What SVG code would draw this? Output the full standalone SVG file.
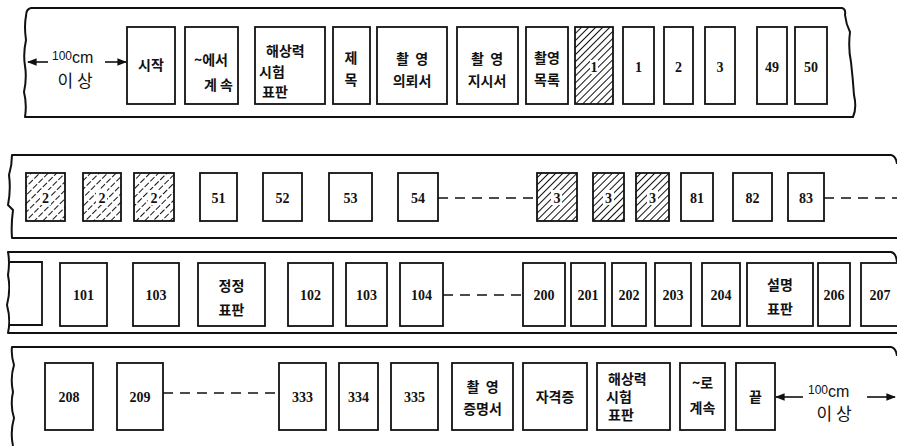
<svg xmlns="http://www.w3.org/2000/svg" width="897" height="446" viewBox="0 0 897 446">
<style>
.strip{fill:none;stroke:#111;stroke-width:2;stroke-linejoin:round}
.b{fill:#fff;stroke:#111;stroke-width:1.8}
.hb{fill:url(#hatch);stroke:#111;stroke-width:1.8}
.hd{fill:url(#hatchd);stroke:#111;stroke-width:1.8}
.k{font-family:"Noto Sans CJK KR","Noto Sans",sans-serif;font-size:14px;font-weight:bold;fill:#111}
.n{font-family:"Liberation Serif","DejaVu Serif",serif;font-size:14px;font-weight:bold;fill:#111;text-anchor:middle}
.c{text-anchor:middle}
.cm{font-family:"Liberation Sans","DejaVu Sans",sans-serif;font-size:16px;fill:#111}
.big{font-size:17px;font-weight:normal}
.dash{fill:none;stroke:#111;stroke-width:1.6;stroke-dasharray:10 7}
.ln{fill:none;stroke:#111;stroke-width:1.6}
</style>
<defs>
<pattern id="hatch" width="5" height="5" patternUnits="userSpaceOnUse" patternTransform="rotate(45)">
<line x1="0" y1="0" x2="0" y2="5" stroke="#111" stroke-width="2"/>
</pattern>
<pattern id="hatchd" width="6" height="8" patternUnits="userSpaceOnUse" patternTransform="rotate(45)">
<line x1="0" y1="0" x2="0" y2="6" stroke="#111" stroke-width="2"/>
</pattern>
<marker id="ah" viewBox="0 0 10 10" refX="9" refY="5" markerWidth="6" markerHeight="6" orient="auto">
<path d="M0 1 L10 5 L0 9 Z" fill="#111"/>
</marker>
</defs>
<rect width="897" height="446" fill="#fff"/>

<g id="strips">
<path class="strip" d="M31 8 L842 8 Q846 9 845 15 Q846 24 850 32 Q848 48 851 62 Q853 80 854 95 Q857 108 853 117 L25 117 Q27 104 24 92 Q27 78 25 66 Q23 54 26 40 Q24 26 26 16 Q26 9 31 8 Z"/>
<path class="strip" d="M899 238 L12 238 Q11 225 13 210 L8 205 Q11 190 9 175 Q12 165 12 155 L891 155 Q896 156 897 164"/>
<path class="strip" d="M899 333 L8 333 Q11 320 7 305 Q11 290 8 275 Q10 262 8 252 L891 252 Q896 253 897 262"/>
<path class="strip" d="M13 446 Q10 432 14 418 Q10 405 13 392 Q10 378 14 365 Q11 355 12 347 L891 347 Q896 348 897 356"/>
</g>

<g id="connectors">
<line class="ln" x1="48" y1="62" x2="28" y2="62" marker-end="url(#ah)"/>
<line class="ln" x1="105" y1="62" x2="126" y2="62" marker-end="url(#ah)"/>
<line class="dash" x1="438" y1="198" x2="537" y2="198"/>
<line class="dash" x1="824" y1="198" x2="897" y2="198"/>
<line class="dash" x1="443" y1="295" x2="523" y2="295"/>
<line class="dash" x1="163" y1="393" x2="279" y2="393"/>
<line class="ln" x1="803" y1="397" x2="776" y2="397" marker-end="url(#ah)"/>
<line class="ln" x1="867" y1="397" x2="895" y2="397" marker-end="url(#ah)"/>
</g>

<g id="label-start">
<text class="cm" x="52" y="63"><tspan font-size="12" dy="-3">100</tspan><tspan dy="3">cm</tspan></text>
<text class="k c big" x="75" y="87">이 상</text>
</g>
<g id="label-end">
<text class="cm" x="808" y="397"><tspan font-size="12" dy="-3">100</tspan><tspan dy="3">cm</tspan></text>
<text class="k c big" x="834" y="420">이 상</text>
</g>

<!-- strip 1 -->
<g id="n-start"><rect class="b" x="127" y="27" width="48" height="77"/><text class="k c" x="151" y="70">시작</text></g>
<g id="n-contfrom"><rect class="b" x="185" y="27" width="53" height="77"/><text class="k c" x="211" y="65">~에서</text><text class="k" x="233" y="90" text-anchor="end">계 속</text></g>
<g id="n-restarget1"><rect class="b" x="255" y="27" width="70" height="77"/><text class="k" x="266" y="56">해상력</text><text class="k" x="259" y="77">시험</text><text class="k" x="262" y="97">표판</text></g>
<g id="n-title"><rect class="b" x="333" y="27" width="37" height="77"/><text class="k c" x="351" y="63">제</text><text class="k c" x="351" y="85">목</text></g>
<g id="n-request"><rect class="b" x="377" y="27" width="70" height="77"/><text class="k c" x="412" y="64" xml:space="preserve">촬  영</text><text class="k c" x="412" y="86">의뢰서</text></g>
<g id="n-instruction"><rect class="b" x="457" y="27" width="61" height="77"/><text class="k c" x="487" y="64" xml:space="preserve">촬  영</text><text class="k c" x="487" y="86">지시서</text></g>
<g id="n-list"><rect class="b" x="526" y="27" width="42" height="77"/><text class="k c" x="547" y="63">촬영</text><text class="k c" x="547" y="85">목록</text></g>
<g id="n-h1"><rect class="hb" x="575" y="27" width="38" height="77"/><rect x="590" y="60" width="8" height="14" fill="#fff"/><text class="n" x="594" y="72">1</text></g>
<g id="n-1"><rect class="b" x="623" y="27" width="31" height="77"/><text class="n" x="638.5" y="72">1</text></g>
<g id="n-2"><rect class="b" x="664" y="27" width="29" height="77"/><text class="n" x="678.5" y="72">2</text></g>
<g id="n-3"><rect class="b" x="705" y="27" width="30" height="77"/><text class="n" x="720" y="72">3</text></g>
<g id="n-49"><rect class="b" x="757" y="27" width="30" height="77"/><text class="n" x="772" y="72">49</text></g>
<g id="n-50"><rect class="b" x="795" y="27" width="32" height="77"/><text class="n" x="811" y="72">50</text></g>

<!-- strip 2 -->
<g id="n-h2a"><rect class="hd" x="26" y="173" width="39" height="48"/><rect x="40" y="190" width="11" height="15" fill="#fff"/><text class="n" x="45.5" y="203">2</text></g>
<g id="n-h2b"><rect class="hd" x="83" y="173" width="38" height="48"/><rect x="96" y="190" width="11" height="15" fill="#fff"/><text class="n" x="102" y="203">2</text></g>
<g id="n-h2c"><rect class="hd" x="134" y="173" width="40" height="48"/><rect x="148" y="190" width="11" height="15" fill="#fff"/><text class="n" x="154" y="203">2</text></g>
<g id="n-51"><rect class="b" x="200" y="173" width="37" height="48"/><text class="n" x="218.5" y="203">51</text></g>
<g id="n-52"><rect class="b" x="263" y="173" width="39" height="48"/><text class="n" x="282.5" y="203">52</text></g>
<g id="n-53"><rect class="b" x="329" y="173" width="43" height="48"/><text class="n" x="350.5" y="203">53</text></g>
<g id="n-54"><rect class="b" x="398" y="173" width="40" height="48"/><text class="n" x="418" y="203">54</text></g>
<g id="n-h3a"><rect class="hb" x="537" y="173" width="40" height="48"/><rect x="551" y="190" width="11" height="15" fill="#fff"/><text class="n" x="557" y="203">3</text></g>
<g id="n-h3b"><rect class="hb" x="593" y="173" width="31" height="48"/><rect x="603" y="190" width="11" height="15" fill="#fff"/><text class="n" x="608.5" y="203">3</text></g>
<g id="n-h3c"><rect class="hb" x="636" y="173" width="33" height="48"/><rect x="647" y="190" width="11" height="15" fill="#fff"/><text class="n" x="652.5" y="203">3</text></g>
<g id="n-81"><rect class="b" x="681" y="173" width="32" height="48"/><text class="n" x="697" y="203">81</text></g>
<g id="n-82"><rect class="b" x="733" y="173" width="39" height="48"/><text class="n" x="752.5" y="203">82</text></g>
<g id="n-83"><rect class="b" x="788" y="173" width="36" height="48"/><text class="n" x="806" y="203">83</text></g>

<!-- strip 3 -->
<g id="n-partial"><path class="b" d="M10 262 L42 262 L42 325 L10 325"/></g>
<g id="n-101"><rect class="b" x="60" y="263" width="47" height="63"/><text class="n" x="83.5" y="300">101</text></g>
<g id="n-103a"><rect class="b" x="133" y="263" width="46" height="63"/><text class="n" x="156" y="300">103</text></g>
<g id="n-correction"><rect class="b" x="198" y="263" width="67" height="63"/><text class="k c" x="231.5" y="291">정정</text><text class="k c" x="231.5" y="315">표판</text></g>
<g id="n-102"><rect class="b" x="288" y="263" width="45" height="63"/><text class="n" x="310.5" y="300">102</text></g>
<g id="n-103b"><rect class="b" x="346" y="263" width="41" height="63"/><text class="n" x="366.5" y="300">103</text></g>
<g id="n-104"><rect class="b" x="400" y="263" width="43" height="63"/><text class="n" x="421.5" y="300">104</text></g>
<g id="n-200"><rect class="b" x="523" y="263" width="42" height="63"/><text class="n" x="544" y="300">200</text></g>
<g id="n-201"><rect class="b" x="571" y="263" width="34" height="63"/><text class="n" x="588" y="300">201</text></g>
<g id="n-202"><rect class="b" x="612" y="263" width="34" height="63"/><text class="n" x="629" y="300">202</text></g>
<g id="n-203"><rect class="b" x="655" y="263" width="36" height="63"/><text class="n" x="673" y="300">203</text></g>
<g id="n-204"><rect class="b" x="702" y="263" width="38" height="63"/><text class="n" x="721" y="300">204</text></g>
<g id="n-explanation"><rect class="b" x="747" y="263" width="66" height="63"/><text class="k c" x="780" y="290">설명</text><text class="k c" x="780" y="314">표판</text></g>
<g id="n-206"><rect class="b" x="818" y="263" width="32" height="63"/><text class="n" x="834" y="300">206</text></g>
<g id="n-207"><rect class="b" x="861" y="263" width="40" height="63"/><text class="n" x="880" y="300">207</text></g>

<!-- strip 4 -->
<g id="n-208"><rect class="b" x="45" y="363" width="48" height="67"/><text class="n" x="69" y="402">208</text></g>
<g id="n-209"><rect class="b" x="117" y="363" width="46" height="67"/><text class="n" x="140" y="402">209</text></g>
<g id="n-333"><rect class="b" x="279" y="363" width="47" height="67"/><text class="n" x="302.5" y="402">333</text></g>
<g id="n-334"><rect class="b" x="339" y="363" width="39" height="67"/><text class="n" x="358.5" y="402">334</text></g>
<g id="n-335"><rect class="b" x="391" y="363" width="47" height="67"/><text class="n" x="414.5" y="402">335</text></g>
<g id="n-certificate"><rect class="b" x="452" y="363" width="61" height="67"/><text class="k c" x="482.5" y="392" xml:space="preserve">촬  영</text><text class="k c" x="482.5" y="414">증명서</text></g>
<g id="n-qualification"><rect class="b" x="523" y="363" width="64" height="67"/><text class="k c" x="555" y="402">자격증</text></g>
<g id="n-restarget2"><rect class="b" x="597" y="363" width="73" height="67"/><text class="k" x="608" y="384">해상력</text><text class="k" x="606" y="402">시험</text><text class="k" x="608" y="420">표판</text></g>
<g id="n-contto"><rect class="b" x="680" y="363" width="45" height="67"/><text class="k c" x="702.5" y="388">~로</text><text class="k c" x="702.5" y="413">계속</text></g>
<g id="n-end"><rect class="b" x="736" y="363" width="39" height="67"/><text class="k c" x="755.5" y="402">끝</text></g>
</svg>
